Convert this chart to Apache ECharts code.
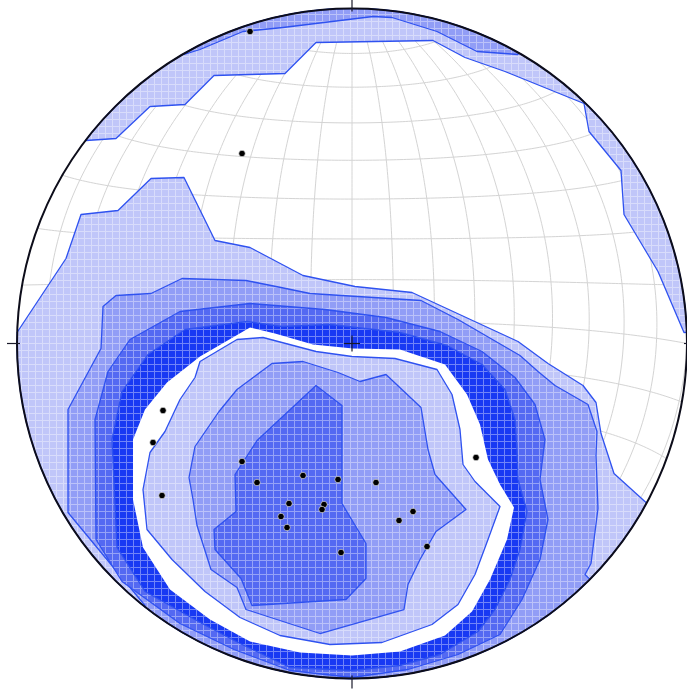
<!DOCTYPE html>
<html><head><meta charset="utf-8">
<script src="https://cdn.jsdelivr.net/npm/echarts@6/dist/echarts.min.js"></script>
<style>html,body{margin:0;padding:0;background:#fff}#c{width:687px;height:689px}</style>
</head><body><div id="c"></div>
<script>
// Equal-area net, projection-plane units: x to the right, y up, primitive radius R.
const R = 335;
const GRID_TILT = 5.5;   // graticule pole lies this many degrees behind the primitive (top)
const GRID_STEP = 10;    // degrees between graticule lines

// Density contours (vertices); "limb" ones are closed along the primitive.
const topBandL1 = [[-266,203],[-236,205],[-202,237],[-167,239],[-138,268],[-67,270],[-36,301],[81,303],[113,286],[153,272],[232,240],[237,212],[269,173],[272,129],[306,72],[332,11]];
const topBandL2 = [[-168,289],[-152,294],[-109,312],[-69,316],[21,327],[40,326],[85,312],[125,292],[166,289]];
const mainL1 = [[-335,11],[-286,85],[-271,129],[-234,133],[-201,165],[-168,166],[-137,103],[-102,96],[-49,68],[3,57],[60,51],[166,2],[196,-20],[231,-42],[244,-59],[249,-90],[262,-130],[294,-159]];
const mainL2 = [[-207,-262],[-260,-198],[-284,-169],[-284,-66],[-251,-5],[-249,37],[-236,48],[-201,50],[-170,65],[-106,63],[-71,56],[-42,50],[69,43],[106,24],[168,-12],[186,-28],[203,-42],[236,-61],[245,-88],[244,-112],[246,-165],[239,-220],[233,-231]];
const mainL3 = [[-172,-280],[-230,-238],[-256,-196],[-257,-76],[-244,-28],[-222,4],[-172,32],[-102,40],[-27,34],[34,26],[88,12],[130,-8],[163,-34],[183,-61],[193,-96],[188,-136],[196,-176],[188,-216],[170,-256],[148,-291],[106,-311],[56,-326],[0,-334],[-62,-327],[-118,-306]];
const mainL4 = [[-150,-280],[-207,-248],[-235,-204],[-240,-96],[-230,-48],[-204,-11],[-167,14],[-105,22],[-70,17],[-22,19],[48,11],[95,-2],[130,-21],[153,-46],[163,-76],[165,-106],[166,-136],[175,-168],[168,-206],[158,-236],[143,-266],[126,-288],[88,-311],[48,-322],[0,-327],[-62,-324],[-112,-300]];
const gapRing = [[-219,-96],[-207,-66],[-185,-39],[-152,-13],[-102,16],[-77,10],[-39,-1],[1,-5],[48,-6],[93,-21],[115,-51],[128,-81],[136,-116],[148,-141],[162,-164],[155,-196],[138,-236],[120,-268],[93,-292],[48,-308],[0,-312],[-52,-309],[-102,-298],[-142,-276],[-182,-246],[-209,-204],[-219,-156]];
const coreL1 = [[-205,-186],[-209,-146],[-202,-109],[-187,-88],[-172,-56],[-157,-34],[-152,-18],[-115,4],[-89,6],[-36,-8],[0,-13],[43,-15],[85,-26],[100,-51],[108,-86],[111,-121],[123,-138],[148,-163],[136,-196],[123,-231],[106,-261],[80,-281],[30,-299],[-22,-301],[-72,-292],[-112,-274],[-147,-248],[-180,-216]];
const coreL2 = [[-159,-156],[-163,-134],[-157,-103],[-133,-68],[-115,-46],[-80,-20],[-49,-18],[-14,-29],[8,-38],[34,-31],[69,-64],[76,-106],[83,-131],[114,-166],[84,-188],[68,-216],[56,-241],[52,-266],[-32,-290],[-106,-266],[-115,-244],[-141,-226],[-155,-182]];
const coreL3 = [[-36,-42],[-10,-62],[-10,-160],[14,-200],[14,-235],[-6,-256],[-100,-262],[-111,-235],[-137,-206],[-138,-186],[-116,-168],[-117,-131],[-95,-97]];

// Plotted poles
const poles = [[-102,312],[-110,190],[-189,-67],[-199,-99],[-190,-152],[-110,-118],[-95,-139],[-49,-132],[-14,-136],[24,-139],[-63,-160],[-71,-173],[-65,-184],[-28,-161],[-30,-166],[-11,-209],[47,-177],[61,-168],[75,-203],[124,-114]];

// level colours (average appearance) and line colour
const LEVEL_RGB = { l1:[198,204,250], l2:[156,167,247], l3:[101,120,243], l4:[47,77,244] };
const LINE_COL = '#2f52f0';

// gridded-raster look: tile with faint lighter rows/columns, same mean colour
function texture(rgb) {
  const n = 7, f = 0.38, cover = (2 * n - 1) / (n * n), k = cover * f;
  const base = rgb.map(v => Math.max(0, Math.round((v - k * 255) / (1 - k))));
  const lite = base.map(v => Math.round(v + (255 - v) * f));
  const cv = document.createElement('canvas'); cv.width = n; cv.height = n;
  const g = cv.getContext('2d');
  g.fillStyle = `rgb(${base})`; g.fillRect(0, 0, n, n);
  g.fillStyle = `rgb(${lite})`; g.fillRect(0, 0, n, 1); g.fillRect(0, 0, 1, n);
  return { image: cv, repeat: 'repeat' };
}
const FILL = {};
Object.keys(LEVEL_RGB).forEach(k => { FILL[k] = texture(LEVEL_RGB[k]); });

function limbArc(a0, a1) {
  const n = Math.max(2, Math.ceil(Math.abs(a1 - a0) / 2)), pts = [];
  for (let i = 0; i <= n; i++) { const a = (a0 + (a1 - a0) * i / n) * Math.PI / 180; pts.push([R * Math.cos(a), R * Math.sin(a)]); }
  return pts;
}
function closeOnLimb(line, dir) {
  const last = line[line.length - 1], first = line[0];
  const a0 = Math.atan2(last[1], last[0]) * 180 / Math.PI;
  let a1 = Math.atan2(first[1], first[0]) * 180 / Math.PI;
  if (dir > 0) { while (a1 < a0) a1 += 360; } else { while (a1 > a0) a1 -= 360; }
  return line.concat(limbArc(a0, a1));
}

// graticule of a tilted sphere, equal-area projection of the front hemisphere
function sphPoint(lat, lon) {
  const d = GRID_TILT * Math.PI / 180, la = lat * Math.PI / 180, lo = lon * Math.PI / 180;
  const N = [0, Math.cos(d), -Math.sin(d)], E1 = [0, Math.sin(d), Math.cos(d)];
  const cl = Math.cos(la), sl = Math.sin(la), c = Math.cos(lo), s = Math.sin(lo);
  return [cl * s, sl * N[1] + cl * c * E1[1], sl * N[2] + cl * c * E1[2]];
}
function proj(p) { const k = R / Math.sqrt(1 + Math.max(p[2], 0)); return [p[0] * k, p[1] * k]; }
function traceCurve(fn, t0, t1, step) {
  const out = []; let cur = [], prev = null;
  for (let t = t0; t <= t1 + 1e-9; t += step) {
    const p = fn(t);
    if (prev && (prev[2] >= 0) !== (p[2] >= 0)) {
      const f = prev[2] / (prev[2] - p[2]);
      let q = [prev[0] + (p[0] - prev[0]) * f, prev[1] + (p[1] - prev[1]) * f, 0];
      const L = Math.hypot(q[0], q[1]) || 1; q = [q[0] / L, q[1] / L, 0];
      cur.push(proj(q));
      if (p[2] < 0) { out.push(cur); cur = []; }
    }
    if (p[2] >= 0) cur.push(proj(p));
    prev = p;
  }
  if (cur.length > 1) out.push(cur);
  return out.filter(c => c.length > 1);
}
const graticule = [];
for (let lat = -90 + GRID_STEP; lat < 90; lat += GRID_STEP) graticule.push(...traceCurve(t => sphPoint(lat, t), -180, 180, 1));
for (let lon = 0; lon < 360; lon += GRID_STEP) graticule.push(...traceCurve(t => sphPoint(t, lon), -90, 90, 1));

function polySeries(pts, fill, stroke, z) {
  return {
    type: 'custom', coordinateSystem: 'cartesian2d', z, silent: true, clip: false,
    data: pts, encode: { x: 0, y: 1 },
    renderItem: (params, api) => {
      if (params.dataIndex !== 0) return;
      return { type: 'polygon', shape: { points: pts.map(p => api.coord(p)) },
        style: { fill, stroke: stroke || null, lineWidth: stroke ? 1.3 : 0, lineJoin: 'round' } };
    }
  };
}

const series = [];
series.push({
  type: 'custom', coordinateSystem: 'cartesian2d', z: 1, silent: true, clip: false,
  data: graticule.map((g, i) => [g[0][0], g[0][1], i]), encode: { x: 0, y: 1 },
  renderItem: (params, api) => ({ type: 'polyline', shape: { points: graticule[params.dataIndex].map(p => api.coord(p)) },
    style: { fill: null, stroke: '#d4d4d4', lineWidth: 1 } })
});
const layers = [
  [closeOnLimb(topBandL1, 1), FILL.l1, LINE_COL],
  [closeOnLimb(topBandL2, 1), FILL.l2, LINE_COL],
  [closeOnLimb(mainL1, -1), FILL.l1, LINE_COL],
  [closeOnLimb(mainL2, -1), FILL.l2, LINE_COL],
  [mainL3, FILL.l3, LINE_COL],
  [mainL4, FILL.l4, LINE_COL],
  [gapRing, '#ffffff', null],
  [coreL1, FILL.l1, LINE_COL],
  [coreL2, FILL.l2, LINE_COL],
  [coreL3, FILL.l3, LINE_COL]
];
layers.forEach((l, i) => series.push(polySeries(l[0], l[1], l[2], 3 + i)));

// primitive circle, cardinal ticks and centre cross
series.push({
  type: 'custom', coordinateSystem: 'cartesian2d', z: 20, silent: true, clip: false,
  data: [[0, 0]], encode: { x: 0, y: 1 },
  renderItem: (params, api) => {
    const c = api.coord([0, 0]), r = api.coord([R, 0])[0] - c[0];
    const ln = (a, b) => ({ type: 'line', shape: { x1: api.coord(a)[0], y1: api.coord(a)[1], x2: api.coord(b)[0], y2: api.coord(b)[1] }, style: { stroke: '#1a1a2a', lineWidth: 1.2 } });
    return { type: 'group', children: [
      { type: 'circle', shape: { cx: c[0], cy: c[1], r }, style: { fill: null, stroke: '#0d0d1a', lineWidth: 2 } },
      ln([0, R - 3], [0, R + 10]), ln([0, -R + 3], [0, -R - 10]),
      ln([-R + 3, 0], [-R - 10, 0]), ln([R - 3, 0], [R + 10, 0]),
      ln([-8, 0], [8, 0]), ln([0, -8], [0, 8])
    ] };
  }
});
series.push({
  type: 'scatter', data: poles, symbol: 'circle', symbolSize: 6.5, z: 30, silent: true,
  itemStyle: { color: '#000000', borderColor: '#ffffff', borderWidth: 0.6, opacity: 1 }
});

const chart = echarts.init(document.getElementById('c'), null, { renderer: 'canvas' });
chart.setOption({
  animation: false,
  backgroundColor: '#ffffff',
  grid: { left: 17, top: 8.5, width: 670, height: 670, containLabel: false },
  xAxis: { type: 'value', min: -R, max: R, show: false },
  yAxis: { type: 'value', min: -R, max: R, show: false },
  series
});
</script></body></html>
